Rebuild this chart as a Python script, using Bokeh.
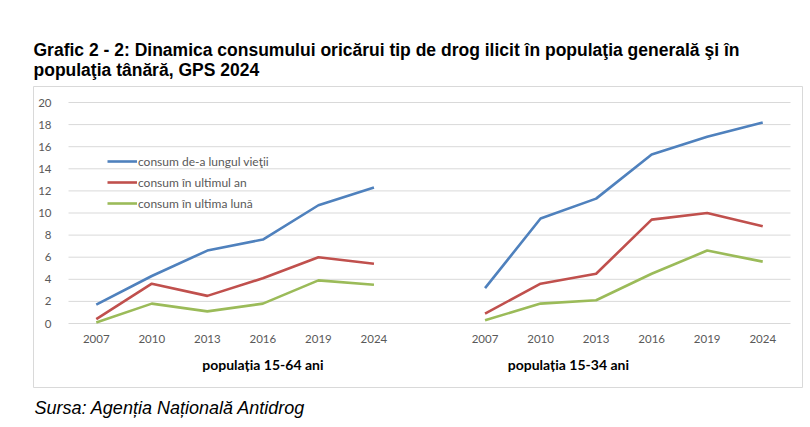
from bokeh.plotting import figure
from bokeh.models import (Range1d, FixedTicker, Legend, LegendItem, LinearAxis, Title)
from bokeh.embed import file_html
from bokeh.resources import INLINE

# ---- data ----
years = ["2007", "2010", "2013", "2016", "2019", "2024"]
groups = ["populația 15-64 ani", "populația 15-34 ani"]
series_names = ["consum de-a lungul vieţii", "consum în ultimul an", "consum în ultima lună"]

lifetime_15_64 = [1.7, 4.3, 6.6, 7.6, 10.7, 12.3]
lastyear_15_64 = [0.4, 3.6, 2.5, 4.1, 6.0, 5.4]
lastmonth_15_64 = [0.1, 1.8, 1.1, 1.8, 3.9, 3.5]

lifetime_15_34 = [3.2, 9.5, 11.3, 15.3, 16.9, 18.2]
lastyear_15_34 = [0.9, 3.6, 4.5, 9.4, 10.0, 8.8]
lastmonth_15_34 = [0.3, 1.8, 2.1, 4.5, 6.6, 5.6]

y_ticks = [0, 2, 4, 6, 8, 10, 12, 14, 16, 18, 20]

title_lines = ["Grafic 2 - 2: Dinamica consumului oricărui tip de drog ilicit în populaţia generală şi în",
               "populaţia tânără, GPS 2024"]
source_text = "Sursa: Agenția Națională Antidrog"

colors = ["#4F81BD", "#C0504D", "#9BBB59"]

# category slots: group 1 at 0..5, an empty slot, group 2 at 7..12
x_left = list(range(len(years)))
x_right = [len(years) + 1 + i for i in range(len(years))]
caption_pos = [3.0, 8.5]

# ---- layout (pixels) ----
W, H = 810, 427
box_l, box_r, box_t, box_b = 33, 802, 86, 387      # outer chart box = plot frame
area_l, area_r, area_t, area_b = 68, 790, 102, 323  # category/value area inside box

xs0, xs1 = x_left[0] - 0.5, x_right[-1] + 0.5
ys0, ys1 = y_ticks[0], y_ticks[-1]
px_x = (area_r - area_l) / (xs1 - xs0)
px_y = (area_b - area_t) / (ys1 - ys0)
x_range = Range1d(xs0 - (area_l - box_l) / px_x, xs1 + (box_r - area_r) / px_x)
y_range = Range1d(ys0 - (box_b - area_b) / px_y, ys1 + (area_t - box_t) / px_y)

p = figure(width=W, height=H, output_backend="svg", toolbar_location=None,
           x_range=x_range, y_range=y_range,
           x_axis_location=None, y_axis_location=None,
           min_border_left=box_l, min_border_right=W - box_r,
           min_border_top=box_t, min_border_bottom=H - box_b)
p.outline_line_color = "#D9D9D9"
p.outline_line_width = 1
p.background_fill_color = "white"
p.border_fill_color = "white"
p.xgrid.visible = False
p.ygrid.visible = False

label_color = "#595959"

# horizontal gridlines across the category area only
p.segment(x0=[xs0] * len(y_ticks), x1=[xs1] * len(y_ticks), y0=y_ticks, y1=y_ticks,
          line_color="#D9D9D9", line_width=1)

# axes placed inside the frame
overrides = {}
for i, yv in enumerate(years):
    overrides[x_left[i]] = yv
    overrides[x_right[i]] = yv
xaxis = LinearAxis(fixed_location=ys0, ticker=FixedTicker(ticks=x_left + x_right),
                   major_label_overrides=overrides)
yaxis = LinearAxis(fixed_location=xs0, ticker=FixedTicker(ticks=y_ticks))
cap_axis = LinearAxis(fixed_location=ys0, ticker=FixedTicker(ticks=caption_pos),
                      major_label_overrides={caption_pos[0]: groups[0], caption_pos[1]: groups[1]})
for ax in (xaxis, yaxis, cap_axis):
    ax.axis_line_color = None
    ax.major_tick_line_color = None
    ax.minor_tick_line_color = None
    ax.major_label_text_font = "Lato"
    ax.major_label_text_font_size = "11.5px"
    ax.major_label_text_color = label_color
xaxis.major_label_standoff = 5
yaxis.major_label_standoff = 11
cap_axis.major_label_standoff = 26
cap_axis.major_label_text_font_size = "14px"
cap_axis.major_label_text_font_style = "bold"
cap_axis.major_label_text_color = "#000000"
p.add_layout(xaxis, "below")
p.add_layout(cap_axis, "below")
p.add_layout(yaxis, "left")

# lines
left_series = [lifetime_15_64, lastyear_15_64, lastmonth_15_64]
right_series = [lifetime_15_34, lastyear_15_34, lastmonth_15_34]
items = []
for k in range(3):
    r1 = p.line(x_left, left_series[k], line_color=colors[k], line_width=2.6, line_join="round")
    p.line(x_right, right_series[k], line_color=colors[k], line_width=2.6, line_join="round")
    items.append(LegendItem(label=series_names[k], renderers=[r1]))

legend = Legend(items=items, location=(107 - box_l, box_b - 213), glyph_width=30, glyph_height=20,
                label_height=20, label_standoff=1, spacing=1, padding=0, margin=0,
                border_line_alpha=0, background_fill_alpha=0,
                label_text_font="Lato", label_text_font_size="12px",
                label_text_color=label_color)
p.add_layout(legend)

# two-line title above the frame, source below it
p.add_layout(Title(text="\n".join(title_lines), align="left", offset=0, standoff=13,
                   text_font="Liberation Sans", text_font_style="bold",
                   text_font_size="17.5px", text_color="#000000"), "above")
p.add_layout(Title(text=source_text, align="left", offset=1, standoff=17,
                   text_font="Liberation Sans", text_font_style="italic",
                   text_font_size="18px", text_color="#000000"), "below")

open("out.html", "w").write(file_html(p, INLINE))
